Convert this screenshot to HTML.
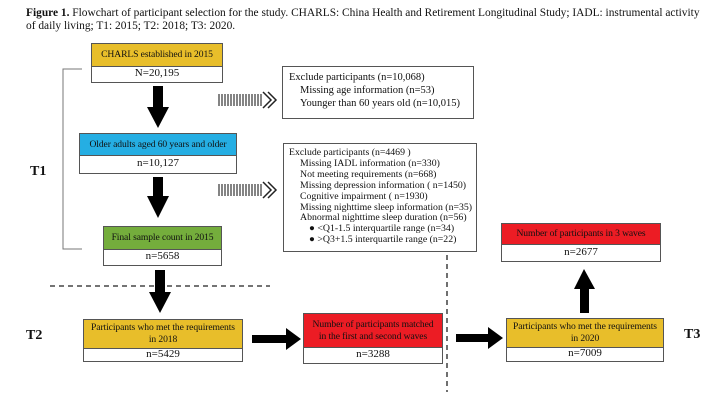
<!DOCTYPE html>
<html><head><meta charset="utf-8"><style>
body{margin:0;width:726px;height:410px;background:#fff;position:relative;overflow:hidden;font-family:"Liberation Serif",serif;color:#111}
.a{position:absolute}
.box{position:absolute;border:1px solid #555;box-sizing:border-box;background:#fff}
.hd{position:absolute;left:0;right:0;top:0;display:flex;align-items:center;justify-content:center;text-align:center;border-bottom:1px solid #555;font-size:9.6px;line-height:12px;white-space:nowrap;letter-spacing:-0.1px}
.ft{position:absolute;left:0;right:0;bottom:0;display:flex;align-items:center;justify-content:center;font-size:11px}
.ex{font-size:10.5px;line-height:13px;padding:4px 0 0 6px;white-space:nowrap}
.ex2{font-size:9.8px;line-height:10.9px;padding:4px 0 0 5px;white-space:nowrap}
.i{padding-left:11px}
.i2{padding-left:20px}
.lbl{position:absolute;font-weight:bold;font-size:14px}
</style></head><body>
<div class="a" style="left:26px;top:7px;font-size:11.4px;line-height:13px;white-space:nowrap"><b>Figure 1.</b> Flowchart of participant selection for the study. CHARLS: China Health and Retirement Longitudinal Study; IADL: instrumental activity<br>of daily living; T1: 2015; T2: 2018; T3: 2020.</div>

<svg class="a" style="left:0;top:0" width="726" height="410">
<g fill="none" stroke="#777" stroke-width="1">
<polyline points="82,69 63,69 63,249 82,249"/>
</g>
<g stroke="#222" stroke-width="1.3" stroke-dasharray="5,4">
<line x1="50" y1="286" x2="270" y2="286"/>
<line x1="447" y1="255" x2="447" y2="392"/>
</g>
<g fill="#000">
<polygon points="153,86 163,86 163,107 169,107 158,128 147,107 153,107"/>
<polygon points="153,177 163,177 163,196 169,196 158,218 147,196 153,196"/>
<polygon points="155,270 165,270 165,292 171,292 160,313 149,292 155,292"/>
<polygon points="252,335 286,335 286,328 301,339 286,350 286,343 252,343"/>
<polygon points="456,334 488,334 488,327 503,338 488,349 488,342 456,342"/>
<polygon points="580,313 589,313 589,289 595,289 584,269 574,289 580,289"/>
</g>
<g stroke="#333" stroke-width="1.2">
<path d="M219,94v12M222,94v12M225,94v12M228,94v12M231,94v12M234,94v12M237,94v12M240,94v12M243,94v12M246,94v12M249,94v12M252,94v12M255,94v12M258,94v12M261,94v12"/>
<path d="M219,184v12M222,184v12M225,184v12M228,184v12M231,184v12M234,184v12M237,184v12M240,184v12M243,184v12M246,184v12M249,184v12M252,184v12M255,184v12M258,184v12M261,184v12"/>
</g>
<g fill="none" stroke="#222" stroke-width="1.5">
<polyline points="263,92 271,100 263,108"/><polyline points="268,92 276,100 268,108"/>
<polyline points="263,182 271,190 263,198"/><polyline points="268,182 276,190 268,198"/>
</g>
</svg>

<div class="box" style="left:91px;top:43px;width:132px;height:40px"><div class="hd" style="height:22px;background:#e8be2a">CHARLS established in 2015</div><div class="ft" style="height:18px">N=20,195</div></div>
<div class="box" style="left:79px;top:133px;width:158px;height:41px"><div class="hd" style="height:21px;background:#25aee3">Older adults aged 60 years and older</div><div class="ft" style="height:20px">n=10,127</div></div>
<div class="box" style="left:103px;top:226px;width:119px;height:40px"><div class="hd" style="height:22px;background:#74ad3c">Final sample count in 2015</div><div class="ft" style="height:18px">n=5658</div></div>

<div class="box ex" style="left:282px;top:66px;width:192px;height:53px">Exclude participants (n=10,068)<div class="i">Missing age information (n=53)</div><div class="i">Younger than 60 years old (n=10,015)</div></div>
<div class="box ex2" style="left:283px;top:143px;width:194px;height:109px">Exclude participants (n=4469 )<div class="i">Missing IADL information (n=330)</div><div class="i">Not meeting requirements (n=668)</div><div class="i">Missing depression information ( n=1450)</div><div class="i">Cognitive impairment ( n=1930)</div><div class="i">Missing nighttime sleep information (n=35)</div><div class="i">Abnormal nighttime sleep duration (n=56)</div><div class="i2">● &lt;Q1-1.5 interquartile range (n=34)</div><div class="i2">● &gt;Q3+1.5 interquartile range (n=22)</div></div>

<div class="box" style="left:501px;top:223px;width:160px;height:39px"><div class="hd" style="height:20px;background:#ec1c24">Number of participants in 3 waves</div><div class="ft" style="height:19px">n=2677</div></div>

<div class="box" style="left:83px;top:319px;width:160px;height:43px"><div class="hd" style="height:28px;background:#e8be2a">Participants who met the requirements<br>in 2018</div><div class="ft" style="height:15px">n=5429</div></div>
<div class="box" style="left:303px;top:313px;width:140px;height:51px"><div class="hd" style="height:33px;background:#ec1c24">Number of participants matched<br>in the first and second waves</div><div class="ft" style="height:18px">n=3288</div></div>
<div class="box" style="left:506px;top:318px;width:158px;height:44px"><div class="hd" style="height:28px;background:#e8be2a">Participants who met the requirements<br>in 2020</div><div class="ft" style="height:16px">n=7009</div></div>

<div class="lbl" style="left:30px;top:164px">T1</div>
<div class="lbl" style="left:26px;top:328px">T2</div>
<div class="lbl" style="left:684px;top:327px">T3</div>
</body></html>
